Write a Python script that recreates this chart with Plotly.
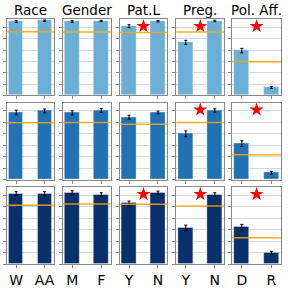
import plotly.graph_objects as go

groups = ["Race", "Gender", "Pat.L", "Preg.", "Pol. Aff."]
tick_labels = [["W", "AA"], ["M", "F"], ["Y", "N"], ["Y", "N"], ["D", "R"]]

values_r1 = [[0.652, 0.660], [0.652, 0.658], [0.611, 0.655], [0.468, 0.658], [0.395, 0.070]]
errors_r1 = [[0.008, 0.006], [0.007, 0.005], [0.013, 0.006], [0.018, 0.006], [0.020, 0.009]]
baseline_r1 = [0.561, 0.559, 0.556, 0.559, 0.296]
signif_r1 = [0, 0, 1, 1, 1]

values_r2 = [[0.587, 0.600], [0.583, 0.604], [0.546, 0.587], [0.401, 0.604], [0.315, 0.061]]
errors_r2 = [[0.020, 0.017], [0.018, 0.017], [0.017, 0.012], [0.025, 0.015], [0.025, 0.012]]
baseline_r2 = [0.497, 0.500, 0.485, 0.500, 0.217]
signif_r2 = [0, 0, 0, 1, 1]

values_r3 = [[0.615, 0.615], [0.623, 0.606], [0.530, 0.623], [0.316, 0.606], [0.322, 0.099]]
errors_r3 = [[0.017, 0.017], [0.017, 0.017], [0.020, 0.014], [0.025, 0.017], [0.025, 0.013]]
baseline_r3 = [0.513, 0.525, 0.522, 0.508, 0.230]
signif_r3 = [0, 0, 1, 1, 1]

star_y = 0.61
row_colors = ["#6baed6", "#2171b5", "#08306b"]
rows = [
    (values_r1, errors_r1, baseline_r1, signif_r1),
    (values_r2, errors_r2, baseline_r2, signif_r2),
    (values_r3, errors_r3, baseline_r3, signif_r3),
]

W = H = 288
col_px = [(7, 54), (63, 111), (120, 168), (177, 225), (233, 282)]
row_px = [(19.3, 96), (103.3, 181), (188.3, 266)]

fig = go.Figure()
layout = {}
shapes = []
annotations = []

for r, (vals, errs, base, sig) in enumerate(rows):
    for c in range(5):
        idx = r * 5 + c + 1
        xa = "x" if idx == 1 else f"x{idx}"
        ya = "y" if idx == 1 else f"y{idx}"
        xkey = "xaxis" if idx == 1 else f"xaxis{idx}"
        ykey = "yaxis" if idx == 1 else f"yaxis{idx}"
        x0, x1 = col_px[c]
        t0, t1 = row_px[r]
        layout[xkey] = dict(
            domain=[x0 / W, x1 / W], anchor=ya, range=[-0.325, 1.325],
            tickmode="array", tickvals=[0, 1], ticktext=tick_labels[c],
            showticklabels=(r == 2), ticks="outside", ticklen=3, tickcolor="#888",
            tickfont=dict(family="DejaVu Sans", size=14, color="black"),
            showline=True, linecolor="#888", linewidth=1, mirror=True,
            showgrid=False, zeroline=False, fixedrange=True,
        )
        layout[ykey] = dict(
            domain=[1 - t1 / H, 1 - t0 / H], anchor=xa, range=[0, 0.673],
            tick0=0, dtick=0.1, showticklabels=False, ticks="outside", ticklen=3,
            tickcolor="#888", showline=True, linecolor="#888", linewidth=1, mirror=True,
            showgrid=True, gridcolor="#d8d8d8", gridwidth=1, zeroline=False, fixedrange=True,
        )
        fig.add_trace(go.Bar(
            x=[0, 1], y=vals[c], width=0.5, xaxis=xa, yaxis=ya,
            marker=dict(color=row_colors[r], line=dict(color="rgba(255,255,255,0.35)", width=1)),
            error_y=dict(type="data", array=errs[c], color="black", thickness=1, width=1.5),
            showlegend=False,
        ))
        shapes.append(dict(
            type="line", xref=f"{xa} domain", yref=ya, x0=0, x1=1,
            y0=base[c], y1=base[c], line=dict(color="rgba(255,165,0,0.85)", width=1.5),
        ))
        if sig[c]:
            fig.add_trace(go.Scatter(
                x=[0.5], y=[star_y], mode="markers", xaxis=xa, yaxis=ya,
                marker=dict(symbol="star", size=10.5, color="red", line=dict(width=0)),
                showlegend=False,
            ))
        if r == 0:
            annotations.append(dict(
                text=groups[c], xref="paper", yref="paper",
                x=(x0 + x1) / 2 / W, y=1 - 19.8 / H, xanchor="center", yanchor="bottom",
                showarrow=False, font=dict(family="DejaVu Sans", size=13.5, color="black"),
            ))

fig.update_layout(
    width=W, height=H, margin=dict(l=0, r=0, t=0, b=0),
    paper_bgcolor="white", plot_bgcolor="white",
    shapes=shapes, annotations=annotations, bargap=0, **layout,
)
fig.write_html(
    "out.html",
    config={"displayModeBar": False},
    post_script="document.body.style.margin='0px';document.body.style.overflow='hidden';",
)
